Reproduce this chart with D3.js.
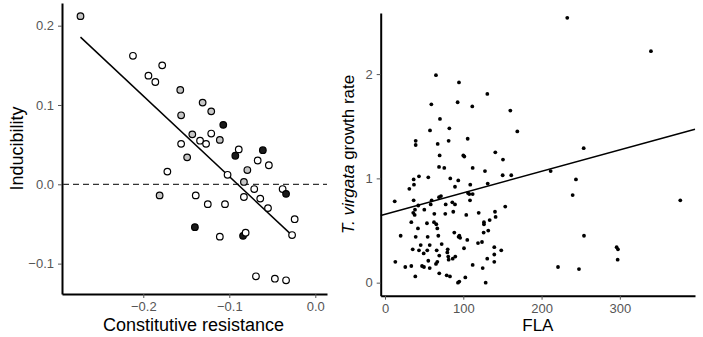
<!DOCTYPE html>
<html lang="en">
<head>
<meta charset="UTF-8">
<script src="https://d3js.org/d3.v7.min.js"></script>
<title>Inducibility and growth rate</title>
<style>
    body { margin: 0; background: white; }
    svg text { font-family: "Liberation Sans", Arial, sans-serif; }
    .tick text { fill: #555; font-size: 13px; }
    .tick line { stroke: #555; }
    .domain { stroke: black; stroke-width: 2; }
    .axis-title { font-size: 18px; fill: black; }
    .axis-title.small { font-size: 17px; }
</style>
</head>
<body>
<svg id="chart"></svg>
<script>
// left panel: constitutive resistance vs inducibility, colour group 0 = open, 1 = grey, 2 = black
const resistance = [-0.273, -0.212, -0.194, -0.186, -0.178, -0.157, -0.156, -0.131, -0.121, -0.107,
    -0.143, -0.156, -0.134, -0.127, -0.121, -0.111, -0.149, -0.093, -0.089, -0.061,
    -0.067, -0.054, -0.079, -0.172, -0.102, -0.083, -0.071, -0.038, -0.034, -0.181,
    -0.139, -0.125, -0.105, -0.083, -0.064, -0.055, -0.024, -0.140, -0.111, -0.084,
    -0.081, -0.027, -0.069, -0.047, -0.034];
const inducibility = [0.212, 0.162, 0.137, 0.129, 0.150, 0.119, 0.087, 0.103, 0.092, 0.075,
    0.063, 0.051, 0.055, 0.051, 0.064, 0.056, 0.034, 0.036, 0.044, 0.043,
    0.030, 0.024, 0.018, 0.016, 0.012, 0.003, -0.006, -0.006, -0.012, -0.014,
    -0.014, -0.025, -0.025, -0.016, -0.018, -0.030, -0.044, -0.054, -0.066, -0.065,
    -0.061, -0.064, -0.116, -0.119, -0.121];
const group = [1, 0, 0, 0, 0, 1, 1, 1, 1, 2,
    1, 0, 0, 0, 0, 1, 1, 2, 0, 2,
    0, 0, 1, 0, 0, 1, 0, 0, 2, 1,
    0, 0, 0, 0, 0, 0, 0, 2, 0, 2,
    0, 0, 0, 0, 0];
const leftFit = { intercept: -0.0918, slope: -1.016, from: -0.273, to: -0.027 };
const leftXTicks = [-0.2, -0.1, 0.0];
const leftYTicks = [-0.1, 0.0, 0.1, 0.2];

// right panel: FLA vs T. virgata growth rate
const fla = [232.8, 339.7, 65.1, 94.5, 130.7, 59.2, 92.8, 111.5, 160.1, 70.2,
    57.5, 82.2, 169.0, 39.2, 39.2, 67.3, 81.3, 105.6, 69.8, 100,
    101.3, 140.9, 150.7, 253.8, 69, 75.7, 112, 127.7, 211.6, 43.4,
    55.3, 36.6, 83.4, 93.6, 150.3, 161.3, 243.9, 37, 31.1, 89.4,
    108.9, 131.2, 106, 107.7, 112, 69, 71.5, 239.7, 12.4, 36.6,
    59.6, 108.6, 377.2, 42.5, 58.4, 77.5, 86, 89.4, 38.3, 50.2,
    153.6, 36.1, 37.9, 63, 77, 87.2, 103.8, 119.7, 140.5, 141.3,
    133.7, 33.6, 62.6, 53.6, 65.5, 126.4, 126.4, 42.1, 66.8, 88.5,
    131.9, 126, 20, 39.2, 54.5, 68.1, 94, 95, 96, 254.2,
    105.1, 72.4, 45.6, 57.1, 118.8, 123.9, 35.4, 43.4, 54, 66,
    80.1, 100.9, 139.6, 148.5, 295.9, 297.6, 79.6, 49.4, 80.8, 69.3,
    89.8, 130.6, 139.6, 13.2, 55.3, 66.8, 81.3, 86.5, 139.6, 297.2,
    25.9, 33.6, 47.3, 49.8, 57.1, 65.1, 112, 124.8, 221, 247.8,
    38.7, 69.3, 78.8, 83, 102.6, 93.2, 94.9, 128.6];
const growth = [2.54, 2.22, 1.99, 1.92, 1.81, 1.71, 1.73, 1.69, 1.65, 1.57,
    1.46, 1.48, 1.45, 1.36, 1.32, 1.33, 1.36, 1.38, 1.22, 1.22,
    1.21, 1.25, 1.18, 1.29, 1.11, 1.10, 1.10, 1.07, 1.07, 1.02,
    1.01, 0.99, 1.00, 0.98, 1.03, 1.03, 0.99, 0.94, 0.90, 0.92,
    0.94, 0.95, 0.86, 0.85, 0.85, 0.82, 0.83, 0.84, 0.78, 0.79,
    0.79, 0.79, 0.79, 0.74, 0.75, 0.75, 0.77, 0.75, 0.70, 0.70,
    0.73, 0.67, 0.65, 0.66, 0.66, 0.68, 0.65, 0.67, 0.68, 0.63,
    0.60, 0.58, 0.58, 0.57, 0.56, 0.58, 0.56, 0.52, 0.52, 0.48,
    0.50, 0.48, 0.45, 0.44, 0.44, 0.45, 0.44, 0.45, 0.43, 0.45,
    0.41, 0.37, 0.36, 0.36, 0.38, 0.39, 0.32, 0.31, 0.31, 0.31,
    0.32, 0.33, 0.34, 0.31, 0.34, 0.32, 0.29, 0.28, 0.25, 0.26,
    0.25, 0.23, 0.27, 0.20, 0.21, 0.20, 0.22, 0.23, 0.20, 0.22,
    0.15, 0.16, 0.16, 0.15, 0.14, 0.18, 0.17, 0.14, 0.15, 0.13,
    0.06, 0.09, 0.07, 0.06, 0.05, 0.00, 0.01, 0.00];
const rightFit = { intercept: 0.656, slope: 0.00206 };
const rightXTicks = [0, 100, 200, 300];
const rightYTicks = [0, 1, 2];

const width = 703, height = 337;
const fills = ["#ffffff", "#c6c6c6", "#1a1a1a"];

const svg = d3.select("#chart").attr("width", width).attr("height", height);

// ---- left panel ----
const xL = d3.scaleLinear().domain([-0.2945, 0.0136]).range([62, 327]);
const yL = d3.scaleLinear().domain([-0.1383, 0.2286]).range([294, 3]);

const left = svg.append("g");

left.append("g")
    .attr("transform", "translate(0," + yL.range()[0] + ")")
    .call(d3.axisBottom(xL).tickValues(leftXTicks).tickSize(4).tickSizeOuter(0).tickPadding(4)
        .tickFormat(d3.format(".1f")));

left.append("g")
    .attr("transform", "translate(" + xL.range()[0] + ",0)")
    .call(d3.axisLeft(yL).tickValues(leftYTicks).tickSize(4).tickSizeOuter(0).tickPadding(4)
        .tickFormat(d3.format(".1f")));

// zero reference line
left.append("line")
    .attr("x1", xL.range()[0] + 1).attr("x2", xL.range()[1])
    .attr("y1", yL(0)).attr("y2", yL(0))
    .attr("stroke", "#333").attr("stroke-width", 1.3)
    .attr("stroke-dasharray", "6,4");

left.append("line")
    .attr("x1", xL(leftFit.from)).attr("y1", yL(leftFit.intercept + leftFit.slope * leftFit.from))
    .attr("x2", xL(leftFit.to)).attr("y2", yL(leftFit.intercept + leftFit.slope * leftFit.to))
    .attr("stroke", "black").attr("stroke-width", 1.5);

left.selectAll("circle")
    .data(d3.range(resistance.length))
    .enter()
    .append("circle")
    .attr("cx", i => xL(resistance[i]))
    .attr("cy", i => yL(inducibility[i]))
    .attr("r", 3.3)
    .attr("fill", i => fills[group[i]])
    .attr("stroke", "black")
    .attr("stroke-width", 1.2);

left.append("text")
    .attr("class", "axis-title")
    .attr("x", (xL.range()[0] + xL.range()[1]) / 2 - 1)
    .attr("y", 331)
    .attr("text-anchor", "middle")
    .text("Constitutive resistance");

left.append("text")
    .attr("class", "axis-title")
    .attr("transform", "translate(23," + (yL.range()[0] + yL.range()[1]) / 2 + ") rotate(-90)")
    .attr("text-anchor", "middle")
    .text("Inducibility");

// ---- right panel ----
const xR = d3.scaleLinear().domain([-5.5, 396]).range([380.7, 695]);
const yR = d3.scaleLinear().domain([-0.125, 2.586]).range([295.7, 13]);

const right = svg.append("g");

right.append("g")
    .attr("transform", "translate(0," + yR.range()[0] + ")")
    .call(d3.axisBottom(xR).tickValues(rightXTicks).tickSize(4).tickSizeOuter(0).tickPadding(4)
        .tickFormat(d3.format("d")));

right.append("g")
    .attr("transform", "translate(" + xR.range()[0] + ",0)")
    .call(d3.axisLeft(yR).tickValues(rightYTicks).tickSize(4).tickSizeOuter(0).tickPadding(4)
        .tickFormat(d3.format("d")));

right.selectAll("circle")
    .data(d3.range(fla.length))
    .enter()
    .append("circle")
    .attr("cx", i => xR(fla[i]))
    .attr("cy", i => yR(growth[i]))
    .attr("r", 1.9)
    .attr("fill", "black");

const [fx0, fx1] = xR.domain();
right.append("line")
    .attr("x1", xR(fx0)).attr("y1", yR(rightFit.intercept + rightFit.slope * fx0))
    .attr("x2", xR(fx1)).attr("y2", yR(rightFit.intercept + rightFit.slope * fx1))
    .attr("stroke", "black").attr("stroke-width", 1.5);

right.append("text")
    .attr("class", "axis-title small")
    .attr("x", (xR.range()[0] + xR.range()[1]) / 2)
    .attr("y", 331)
    .attr("text-anchor", "middle")
    .text("FLA");

const yTitle = right.append("text")
    .attr("class", "axis-title small")
    .attr("transform", "translate(354," + ((yR.range()[0] + yR.range()[1]) / 2) + ") rotate(-90)")
    .attr("text-anchor", "middle");
yTitle.append("tspan").style("font-style", "italic").text("T. virgata");
yTitle.append("tspan").text(" growth rate");
</script>
</body>
</html>
